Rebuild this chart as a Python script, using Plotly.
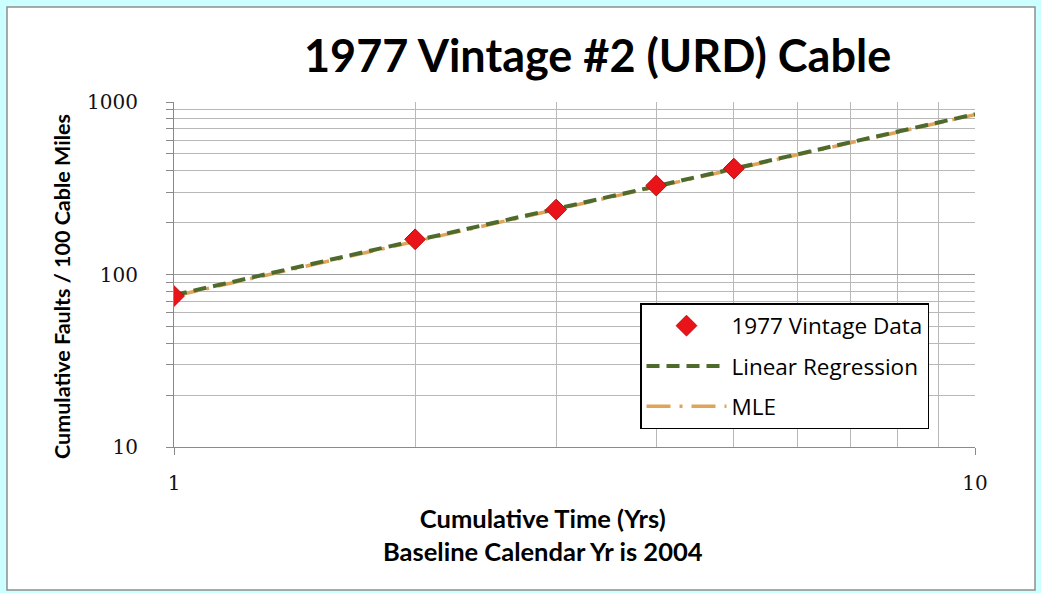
import plotly.graph_objects as go

# ---- data ----
YEARS = [1, 2, 3, 4, 5]
FAULTS = [75, 160, 238, 328, 411]
FIT_YEARS = [1, 10]
REGRESSION = [76, 850]
MLE = [75, 845]

X_TICKS = [1, 10]
X_TICK_TEXT = ["1", "10"]
Y_TICKS = [10, 100, 1000]
Y_TICK_TEXT = ["10", "100", "1000"]
X_MINOR = [2, 3, 4, 5, 6, 7, 8, 9]
Y_MINOR = [20, 30, 40, 50, 60, 70, 80, 90, 200, 300, 400, 500, 600, 700, 800, 900]

TITLE = "1977 Vintage #2 (URD) Cable"
X_TITLE = "Cumulative Time (Yrs)<br>Baseline Calendar Yr is 2004"
Y_TITLE = "Cumulative Faults / 100 Cable Miles"

W, H = 1041, 593
L, R, T, B = 174, 66, 102, 146
PW, PH = W - L - R, H - T - B


def px_x(p):
    return (p - L) / PW


def px_y(p):
    return (H - B - p) / PH


fig = go.Figure()

fig.add_trace(go.Scatter(
    x=FIT_YEARS, y=MLE, mode="lines", name="MLE", legendgroup="c", legendrank=3,
    line=dict(color="#e0a458", width=3.5, dash="24px,9px,3px,9px"),
))
fig.add_trace(go.Scatter(
    x=FIT_YEARS, y=REGRESSION, mode="lines", name="Linear Regression", legendgroup="b", legendrank=2,
    line=dict(color="#4e6a2c", width=4, dash="13px,7px"),
))
fig.add_trace(go.Scatter(
    x=YEARS, y=FAULTS, mode="markers", name="1977 Vintage Data", legendgroup="a", legendrank=1,
    marker=dict(symbol="diamond", size=16, color="#e8141a", line=dict(color="#b81010", width=1)),
))

grid_major = "#9c9c9c"
grid_minor = "#b8b8b8"
tick_font = dict(family="DejaVu Serif", size=20, color="#111111")

fig.update_xaxes(
    type="log", range=[0, 1],
    tickmode="array", tickvals=X_TICKS, ticktext=X_TICK_TEXT,
    ticks="outside", ticklen=7, tickcolor="#8a8a8a",
    showline=True, linecolor="#8a8a8a", linewidth=1,
    showgrid=True, gridcolor=grid_major, gridwidth=1,
    minor=dict(tickmode="array", tickvals=X_MINOR, showgrid=True, gridcolor=grid_minor, ticks=""),
    tickfont=tick_font,
    ticklabelstandoff=11,
    zeroline=False,
)
fig.update_yaxes(
    type="log", range=[1, 3],
    tickmode="array", tickvals=Y_TICKS, ticktext=Y_TICK_TEXT,
    ticks="outside", ticklen=7, tickcolor="#8a8a8a",
    showline=True, linecolor="#8a8a8a", linewidth=1,
    showgrid=True, gridcolor=grid_major, gridwidth=1,
    minor=dict(tickmode="array", tickvals=Y_MINOR, showgrid=True, gridcolor=grid_minor,
               ticks="outside", ticklen=7, tickcolor="#8a8a8a"),
    tickfont=tick_font,
    ticklabelstandoff=24,
    zeroline=False,
)

fig.add_shape(
    type="rect", xref="paper", yref="paper", layer="below",
    x0=px_x(7), x1=px_x(1035), y0=px_y(590), y1=px_y(7),
    fillcolor="white", line=dict(color="#8f8f8f", width=1.5),
)

fig.add_annotation(
    text=TITLE, xref="paper", yref="paper", x=px_x(597), y=px_y(55),
    showarrow=False, xanchor="center", yanchor="middle",
    font=dict(family="Lato", size=45, color="#000000", weight="bold"),
)
fig.add_annotation(
    text=X_TITLE, xref="paper", yref="paper", x=px_x(543), y=px_y(534),
    showarrow=False, xanchor="center", yanchor="middle",
    font=dict(family="Lato", size=25.5, color="#000000", weight="bold"),
)
fig.add_annotation(
    text=Y_TITLE, xref="paper", yref="paper", x=px_x(62), y=px_y(287),
    showarrow=False, xanchor="center", yanchor="middle", textangle=-90,
    font=dict(family="Lato", size=21.5, color="#000000", weight="bold"),
)

fig.update_layout(
    width=W, height=H,
    margin=dict(l=L, r=R, t=T, b=B, pad=0),
    paper_bgcolor="#ccffff",
    plot_bgcolor="white",
    showlegend=True,
    legend=dict(
        x=px_x(640), y=px_y(303), xanchor="left", yanchor="top",
        bgcolor="white", bordercolor="#000000", borderwidth=1.5,
        font=dict(family="Open Sans", size=22.5, color="#000000"),
        itemwidth=80, tracegroupgap=8, traceorder="grouped",
    ),
)

fig.write_html(
    "out.html",
    config={"displayModeBar": False},
    post_script="document.body.style.margin='0px';document.body.style.background='#ccffff';",
)
